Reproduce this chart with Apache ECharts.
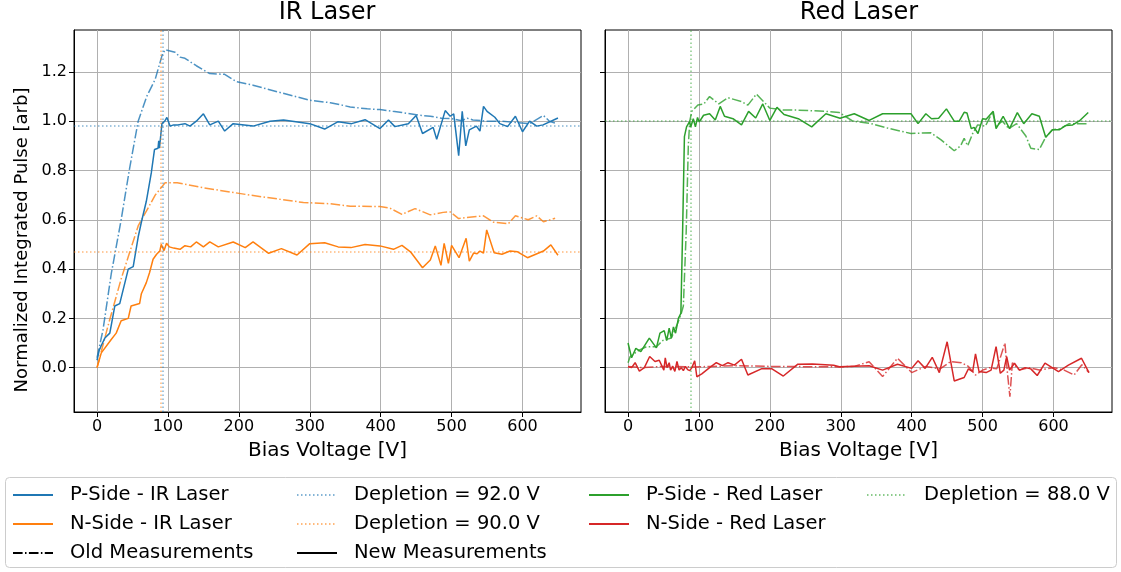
<!DOCTYPE html>
<html>
<head>
<meta charset="utf-8">
<script src="https://cdn.jsdelivr.net/npm/echarts@6/dist/echarts.min.js"></script>
<style>
  html, body { margin: 0; padding: 0; background: #fff; }
  #chart { width: 1121px; height: 572px; }
</style>
</head>
<body>
<div id="chart"></div>
<script>
// [bias voltage, normalized pulse]
var pIrNew = [[0,0.03],[3,0.07],[6,0.09],[11,0.12],[18,0.14],[25,0.25],[32,0.26],[44,0.40],[51,0.41],[58,0.53],[62.5,0.59],[69.5,0.675],[76.5,0.79],[81,0.885],[86,0.89],[87,0.92],[88,0.89],[91.5,0.99],[95.5,1.0],[98.5,1.015],[103,0.98],[108,0.985],[114,0.985],[124,0.99],[131,0.98],[140,1.0],[150,1.03],[159,0.985],[171,1.0],[180,0.96],[192,0.99],[220,0.98],[244,1.0],[263,1.005],[300,0.99],[321,0.968],[340,0.998],[359,0.99],[378,1.006],[399,0.97],[411,1.005],[420,0.978],[439,0.99],[450,1.023],[459,0.95],[474,0.975],[479,0.927],[491,1.043],[498,1.02],[503,1.03],[510,0.86],[515,1.04],[520,0.90],[525,0.965],[535,0.98],[540,0.96],[545,1.06],[550,1.04],[561,1.016],[568,0.99],[579,0.978],[590,1.02],[600,0.957],[610,1.0],[620,0.98],[629,0.985],[650,1.013]];
var nIrNew = [[0,0.0],[6,0.06],[20,0.114],[27,0.14],[34,0.19],[44,0.20],[48,0.25],[60,0.26],[62.5,0.30],[69.5,0.345],[74,0.385],[79,0.44],[84,0.46],[88.5,0.473],[90.5,0.50],[94.5,0.475],[98,0.505],[102,0.49],[108,0.485],[117,0.48],[124,0.495],[132,0.49],[140,0.51],[150,0.49],[159,0.51],[171,0.49],[192,0.51],[209,0.487],[220,0.51],[242,0.464],[260,0.483],[282,0.457],[300,0.503],[321,0.507],[340,0.49],[358,0.487],[378,0.50],[399,0.494],[418,0.48],[430,0.496],[442,0.47],[459,0.405],[470,0.437],[477,0.494],[485,0.415],[489.5,0.504],[495.5,0.423],[500,0.496],[510.5,0.446],[520.5,0.525],[525,0.432],[531,0.465],[536,0.462],[540,0.473],[545,0.465],[549.5,0.559],[560,0.466],[571,0.46],[582.5,0.473],[593,0.47],[607,0.446],[629.5,0.473],[640,0.498],[650,0.456]];
var pIrOld = [[0,0.04],[8.5,0.155],[20,0.38],[34,0.60],[46,0.81],[58,1.0],[70,1.1],[82,1.17],[92,1.27],[96,1.29],[103,1.285],[110,1.28],[117,1.26],[124,1.255],[140,1.225],[159,1.193],[180,1.19],[197,1.16],[220,1.146],[260,1.115],[300,1.085],[329,1.075],[357,1.058],[381,1.05],[399,1.047],[417,1.04],[430,1.035],[453,1.025],[470,1.02],[486,1.012],[500,1.01],[514,1.002],[522,1.012],[530,1.005],[550,1.0],[570,1.0],[590,0.995],[610,0.99],[629.5,1.023],[638,1.0],[648,0.99]];
var nIrOld = [[0,0.0],[15.5,0.17],[34,0.36],[58,0.575],[82,0.70],[96,0.75],[113,0.75],[150,0.73],[216,0.70],[291,0.67],[329,0.665],[357,0.655],[399,0.654],[413,0.647],[430,0.622],[448.5,0.645],[470,0.62],[488,0.63],[498,0.632],[510,0.605],[525,0.61],[545,0.616],[559,0.59],[580,0.584],[590,0.616],[608,0.60],[620,0.616],[629.5,0.592],[646,0.606]];

var pRedNew = [[0,0.10],[5,0.04],[11,0.078],[18,0.065],[30,0.12],[40,0.08],[45,0.14],[51,0.15],[54.5,0.11],[58,0.16],[61,0.12],[64,0.165],[67,0.14],[71,0.20],[74.5,0.22],[77,0.56],[79.5,0.937],[82.5,0.977],[86.5,0.997],[88.5,0.977],[92,1.01],[95,0.977],[98,1.015],[100.5,0.997],[106.5,1.024],[115,1.03],[123,1.005],[130,1.06],[136,1.02],[148,1.01],[160,0.985],[170,1.04],[180,1.013],[190,1.07],[200,1.003],[210,1.056],[220,1.027],[240,1.01],[259,0.977],[279,1.03],[299,1.012],[319,1.03],[340,1.003],[359,1.03],[399,1.03],[409,0.99],[420,1.03],[428,1.01],[438,1.012],[449,1.05],[460,1.0],[467,1.0],[474,1.036],[478,1.033],[484,0.97],[488,0.975],[493.5,0.95],[500,1.01],[505,1.008],[515,1.04],[519,0.97],[529,1.02],[538,0.97],[549,1.035],[558,0.99],[569.5,1.03],[580,1.02],[589,0.935],[598.5,0.965],[608,0.965],[617,0.982],[627,0.985],[636,1.0],[649,1.035]];
var pRedOld = [[0,0.02],[3,0.045],[15,0.07],[26,0.085],[40,0.085],[49,0.11],[61,0.12],[70,0.18],[75,0.22],[78,0.25],[82,0.55],[85,0.9],[87,1.0],[90,1.04],[98.5,1.066],[107,1.07],[115,1.10],[128,1.07],[141,1.095],[160,1.08],[169,1.065],[181,1.11],[200,1.053],[220,1.045],[239.5,1.045],[279,1.04],[298,1.035],[317,1.0],[343,0.99],[368.6,0.97],[399,0.95],[427,0.953],[441,0.925],[460,0.88],[469,0.90],[474,0.93],[479,0.90],[486,0.95],[493,0.985],[504,0.98],[514,1.037],[519,0.98],[528,1.0],[537,0.97],[548,0.99],[561,0.94],[568,0.89],[580,0.885],[589,0.935],[598.5,0.965],[610,0.97],[622,0.99],[636,0.99],[648,0.99]];
var nRedNew = [[0,0.004],[5,0.0],[10,0.02],[16,-0.014],[23,0.0],[30.5,0.045],[38,0.025],[44,0.03],[50.5,-0.01],[52.5,0.04],[55,0.0],[58,0.02],[60,-0.01],[63,0.005],[66,-0.015],[69,0.025],[72,-0.01],[75,0.0],[78,-0.012],[81,0.005],[84,-0.008],[87,-0.012],[90,0.0],[94,0.028],[97,-0.037],[104,-0.025],[115,0.0],[124.5,0.02],[133,0.008],[141,0.02],[150,0.01],[160,0.034],[169,-0.03],[188,-0.005],[203,-0.005],[219,-0.034],[239.5,0.014],[260,0.015],[290,0.01],[298,0.004],[340,0.008],[359,-0.01],[380,0.014],[400,-0.003],[409,0.028],[419,-0.003],[429,0.042],[439,-0.02],[450,0.105],[460,-0.054],[474,-0.04],[480,-0.005],[486,-0.016],[490,0.056],[495,-0.016],[505,-0.02],[512,-0.01],[519,0.085],[525,-0.023],[530,-0.01],[534,0.045],[538,-0.01],[545,0.018],[552,-0.01],[560,0.0],[568,-0.005],[577,-0.032],[588,0.018],[607,-0.016],[621,0.01],[639.5,0.038],[650,-0.02]];
var nRedOld = [[0,0.005],[20,0.0],[50,0.005],[90,0.003],[120,0.005],[150,0.008],[200,0.005],[250,0.004],[300,0.003],[320,0.006],[340,0.024],[359,-0.036],[380,0.038],[400,-0.02],[420,0.005],[440,-0.005],[455,0.025],[470,0.02],[480,0.005],[490,-0.03],[500,-0.01],[510,0.0],[520,-0.005],[531.5,0.10],[535,-0.02],[538.5,-0.118],[542,0.02],[552,-0.01],[565,0.0],[580,-0.01],[600,0.0],[615,-0.01],[629,-0.03],[640,0.012],[650,-0.02]];

// depletion voltages and plateau levels
var depIr = [92.0, 90.0];
var depRed = [88.0];
var plateauIr = [0.984, 0.47];
var plateauRed = [1.0];

var xTicks = [0, 100, 200, 300, 400, 500, 600];
var yTicks = [0, 0.2, 0.4, 0.6, 0.8, 1.0, 1.2];

var FONT = 'DejaVu Sans';
var C = { blue: '#1f77b4', orange: '#ff7f0e', green: '#2ca02c', red: '#d62728' };
var DASHDOT = [9.6, 2.4, 1.5, 2.4];
var DOT = [1.5, 2.5];

function xAxis(i) {
    return {
        gridIndex: i, type: 'value', min: -32.5, max: 682.5,
        name: 'Bias Voltage [V]', nameLocation: 'middle', nameGap: 29,
        nameTextStyle: { fontFamily: FONT, fontSize: 20, color: '#000' },
        axisLine: { show: true, onZero: false, lineStyle: { color: '#000', width: 1 } },
        axisTick: { show: true, length: 5, customValues: xTicks, lineStyle: { color: '#000' } },
        axisLabel: { customValues: xTicks, margin: 7, fontFamily: FONT, fontSize: 16, color: '#000' },
        splitLine: { show: true, lineStyle: { color: '#b0b0b0', width: 1 } }
    };
}
function yAxis(i) {
    return {
        gridIndex: i, type: 'value', min: -0.18, max: 1.37,
        axisLine: { show: true, onZero: false, lineStyle: { color: '#000', width: 1 } },
        axisTick: { show: true, length: 5, customValues: yTicks, lineStyle: { color: '#000' } },
        axisLabel: { show: i === 0, customValues: yTicks, margin: 7, fontFamily: FONT, fontSize: 16, color: '#000',
            formatter: function (v) { return v.toFixed(1); } },
        splitLine: { show: true, lineStyle: { color: '#b0b0b0', width: 1 } }
    };
}

function line(name, g, data, color, dash, opacity) {
    return {
        name: name, type: 'line', xAxisIndex: g, yAxisIndex: g, data: data,
        symbol: 'none', animation: false, silent: true,
        lineStyle: { color: color, width: 1.5, type: dash || 'solid', opacity: opacity || 1 },
        itemStyle: { color: color }
    };
}
function depLines(color, xs, ys) {
    var d = [];
    xs.forEach(function (v) { d.push({ xAxis: v }); });
    ys.forEach(function (v) { d.push({ yAxis: v }); });
    return {
        silent: true, symbol: ['none', 'none'], label: { show: false }, animation: false,
        lineStyle: { color: color, type: DOT, width: 1.5, opacity: 0.55 },
        data: d
    };
}

var s1 = line('pIrOld', 0, pIrOld, C.blue, DASHDOT, 0.8);
var s2 = line('nIrOld', 0, nIrOld, C.orange, DASHDOT, 0.8);
var s3 = line('pIrNew', 0, pIrNew, C.blue);
var s4 = line('nIrNew', 0, nIrNew, C.orange);
s3.markLine = depLines(C.blue, [depIr[0]], [plateauIr[0]]);
s4.markLine = depLines(C.orange, [depIr[1]], [plateauIr[1]]);
var s5 = line('pRedOld', 1, pRedOld, C.green, DASHDOT, 0.8);
var s6 = line('nRedOld', 1, nRedOld, C.red, DASHDOT, 0.8);
var s7 = line('pRedNew', 1, pRedNew, C.green);
var s8 = line('nRedNew', 1, nRedNew, C.red);
s7.markLine = depLines(C.green, [depRed[0]], [plateauRed[0]]);

// legend-only entries
var leg = [
    line('P-Side - IR Laser', 0, [], C.blue),
    line('N-Side - IR Laser', 0, [], C.orange),
    line('Old Measurements', 0, [], '#000', DASHDOT),
    line('Depletion = 92.0 V', 0, [], C.blue, DOT, 0.55),
    line('Depletion = 90.0 V', 0, [], C.orange, DOT, 0.55),
    line('New Measurements', 0, [], '#000'),
    line('P-Side - Red Laser', 1, [], C.green),
    line('N-Side - Red Laser', 1, [], C.red),
    line('Depletion = 88.0 V', 1, [], C.green, DOT, 0.55)
];

function legend(names, left) {
    return {
        data: names, left: left, top: 484, orient: 'vertical', selectedMode: false,
        itemWidth: 40, itemHeight: 14, itemGap: 7, padding: 0,
        itemStyle: { opacity: 0 },
        textStyle: { fontFamily: FONT, fontSize: 19.5, color: '#000', lineHeight: 22, padding: [0, 0, 0, 12] }
    };
}

var chart = echarts.init(document.getElementById('chart'));
chart.setOption({
    backgroundColor: '#fff',
    animation: false,
    title: [
        { text: 'IR Laser', left: 327, top: 1, textAlign: 'center', padding: 0,
          textStyle: { fontFamily: FONT, fontSize: 24, fontWeight: 'normal', color: '#000' } },
        { text: 'Red Laser', left: 859, top: 1, textAlign: 'center', padding: 0,
          textStyle: { fontFamily: FONT, fontSize: 24, fontWeight: 'normal', color: '#000' } }
    ],
    grid: [
        { left: 74, top: 30, width: 507, height: 382, show: true, borderColor: '#000', borderWidth: 1 },
        { left: 605, top: 30, width: 507, height: 382, show: true, borderColor: '#000', borderWidth: 1 }
    ],
    xAxis: [xAxis(0), xAxis(1)],
    yAxis: [yAxis(0), yAxis(1)],
    legend: [
        legend(['P-Side - IR Laser', 'N-Side - IR Laser', 'Old Measurements'], 12),
        legend(['Depletion = 92.0 V', 'Depletion = 90.0 V', 'New Measurements'], 296),
        legend(['P-Side - Red Laser', 'N-Side - Red Laser'], 588),
        legend(['Depletion = 88.0 V'], 866)
    ],
    graphic: [{
        type: 'rect', z: 0, silent: true,
        shape: { x: 5.5, y: 477.5, width: 1111, height: 90, r: 4 },
        style: { fill: '#fff', stroke: '#cccccc', lineWidth: 1 }
    }, {
        type: 'text', x: 22, y: 240, rotation: Math.PI / 2, silent: true,
        style: { text: 'Normalized Integrated Pulse [arb]', fontFamily: FONT, fontSize: 18,
                 fill: '#000', align: 'center', verticalAlign: 'middle' }
    }],
    series: [s1, s2, s3, s4, s5, s6, s7, s8].concat(leg)
});
</script>
</body>
</html>
